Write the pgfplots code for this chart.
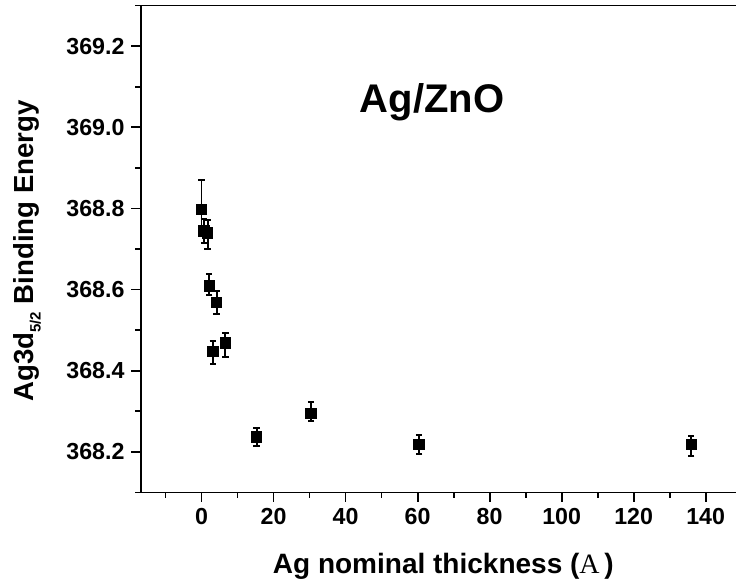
\documentclass[border=0pt]{standalone}
\usepackage{pgfplots}
\pgfplotsset{compat=1.18}
\usepackage{pgfplotstable}
\usepackage{fontspec}
\setmainfont{Liberation Sans}
\newfontfamily\serifA{Liberation Serif}

\pgfplotstableread{
x     y        ep     em
0     368.798  0.073  0.050
0.6   368.745  0.030  0.030
1.7   368.740  0.032  0.040
2.1   368.609  0.030  0.023
4.2   368.569  0.027  0.030
3.1   368.448  0.026  0.031
6.6   368.469  0.023  0.034
15.3  368.237  0.021  0.023
30.4  368.295  0.027  0.020
60.4  368.219  0.023  0.024
136   368.219  0.020  0.028
}\datatable

\begin{document}
\begin{tikzpicture}
\begin{axis}[
  at={(0,0)}, anchor=south west,
  scale only axis,
  width=300.5pt, height=243.5pt,
  xmin=-16.9, xmax=150,
  ymin=368.1, ymax=369.3,
  axis line style={line width=0.9pt},
  tick style={line width=0.9pt, black},
  tick align=outside,
  tick pos=left,
  major tick length=4.6pt,
  minor tick length=2.6pt,
  xtick={0,20,...,140},
  minor xtick={-10,10,30,50,70,90,110,130,150},
  ytick={368.2,368.4,368.6,368.8,369.0,369.2},
  minor ytick={368.1,368.3,368.5,368.7,368.9,369.1,369.3},
  scaled y ticks=false,
  yticklabel style={/pgf/number format/.cd, fixed, fixed zerofill, precision=1},
  /pgf/number format/assume math mode=true,
  tick label style={font=\bfseries\fontsize{11.6}{14}\selectfont},
  xlabel={Ag nominal thickness ({\serifA\mdseries A}\,)},
  xlabel style={font=\bfseries\fontsize{14}{16}\selectfont, at={(axis description cs:0.5035,0)}, anchor=base, yshift=-40.4pt},
  ylabel={Ag3d{\raisebox{-0.5ex}{\fontsize{7.5}{8}\selectfont 5/2}} Binding Energy},
  ylabel style={font=\bfseries\fontsize{13.8}{16}\selectfont, at={(axis description cs:-0.1787,0.4959)}, anchor=base, rotate=0},
  clip=false,
]
\addplot+[black, only marks, mark=square*, mark size=2.6pt,
  mark options={fill=black, draw=black},
  error bars/.cd, y dir=both, y explicit,
  error mark=-, error mark options={rotate=90, black, line width=1pt, mark size=1.6pt},
  error bar style={line width=0.9pt, black}]
  table[x=x, y=y, y error plus=ep, y error minus=em] {\datatable};
\node[font=\bfseries\fontsize{20}{24}\selectfont, anchor=base] at (rel axis cs:0.4847,0.781) {Ag/ZnO};
\end{axis}
\pgfresetboundingbox
\path[use as bounding box] (-70.35pt,-46.25pt) rectangle (297.65pt,246.25pt);
\end{tikzpicture}
\end{document}
